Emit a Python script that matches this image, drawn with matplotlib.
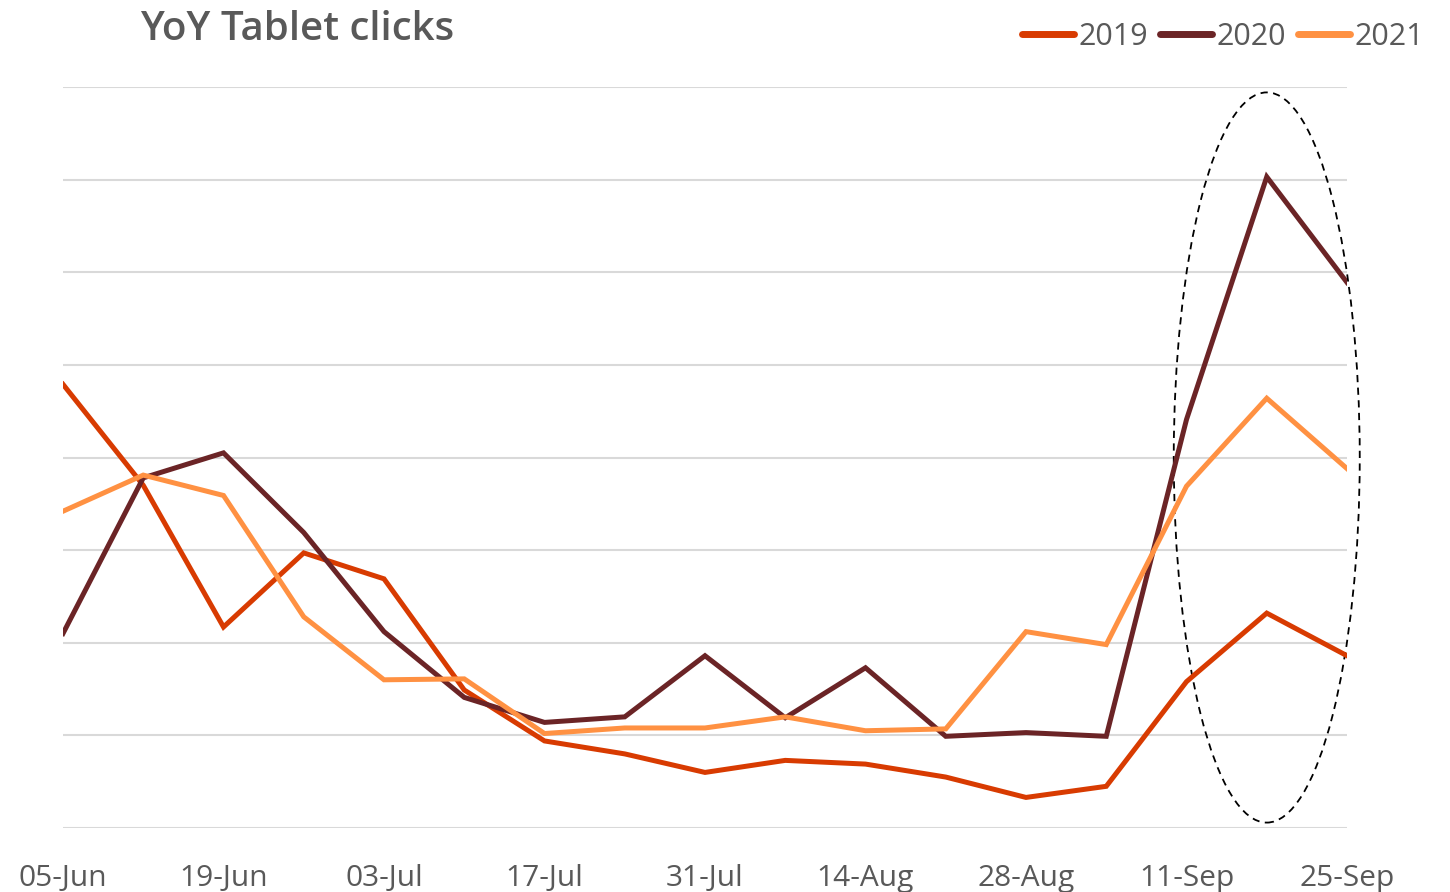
import matplotlib
matplotlib.use("Agg")
import matplotlib.pyplot as plt
from matplotlib.patches import Ellipse

weeks = ["05-Jun", "12-Jun", "19-Jun", "26-Jun", "03-Jul", "10-Jul", "17-Jul", "24-Jul",
         "31-Jul", "07-Aug", "14-Aug", "21-Aug", "28-Aug", "04-Sep", "11-Sep", "18-Sep", "25-Sep"]
clicks_2019 = [4.79, 3.70, 2.17, 2.97, 2.69, 1.49, 0.94, 0.80, 0.60, 0.73, 0.69, 0.55, 0.33, 0.45, 1.58, 2.32, 1.86]
clicks_2020 = [2.10, 3.78, 4.05, 3.19, 2.12, 1.41, 1.14, 1.20, 1.86, 1.19, 1.73, 0.99, 1.03, 0.99, 4.41, 7.03, 5.89]
clicks_2021 = [3.42, 3.81, 3.59, 2.28, 1.60, 1.61, 1.02, 1.08, 1.08, 1.20, 1.05, 1.07, 2.12, 1.98, 3.69, 4.64, 3.88]
series_names = ["2019", "2020", "2021"]
colors = ["#D83B01", "#6B2426", "#FF9142"]

plt.rcParams['font.family'] = ['Open Sans', 'DejaVu Sans']

fig = plt.figure(figsize=(14.5, 8.92), dpi=100)
ax = fig.add_axes([63/1450, 1-828/892, (1347-63)/1450, (828-87)/892])

x = list(range(len(weeks)))
for vals, name, c in zip([clicks_2019, clicks_2020, clicks_2021], series_names, colors):
    ax.plot(x, vals, color=c, lw=3.6, label=name, solid_joinstyle='miter')

ax.set_xlim(0, len(weeks) - 1)
ax.set_ylim(0, 8)
ax.set_yticks(range(0, 9))
ax.set_yticklabels([])
ax.tick_params(axis='y', length=0)
ax.grid(axis='y', color='#D9D9D9', lw=1.5)
ax.set_axisbelow(True)
for s in ax.spines.values():
    s.set_visible(False)

ax.set_xticks(x[::2])
ax.set_xticklabels(weeks[::2], fontsize=21.5, color='#595959')
ax.tick_params(axis='x', length=0, pad=26)

# dashed ellipse highlighting final weeks
ell = Ellipse((15, 4.0), width=186/80.25, height=730/92.6, fill=False,
              ls=(0, (4, 3)), lw=1.3, color='black', clip_on=False)
ax.add_patch(ell)

fig.text(140/1450, 1-30/892, "YoY Tablet clicks", fontsize=29, fontweight='semibold',
         color='#595959', va='center', ha='left')

leg = fig.legend(loc='center right', bbox_to_anchor=(1452/1450, 1-37/892), ncol=3,
                 frameon=False, fontsize=22, handlelength=1.7, handletextpad=0.15,
                 columnspacing=0.4, labelcolor='#595959')
for h in leg.get_lines():
    h.set_linewidth(5)
    h.set_solid_capstyle('round')

fig.savefig("out.png", dpi=100)
